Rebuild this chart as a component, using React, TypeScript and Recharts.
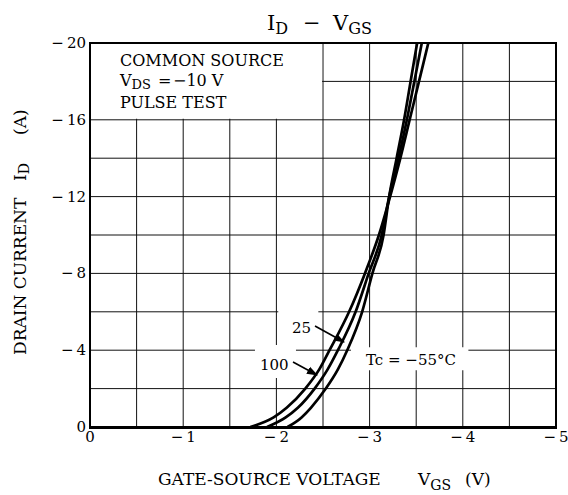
import React from 'react';
import { LineChart, Line, XAxis, YAxis, CartesianGrid, ReferenceArea } from 'recharts';

// Gate-source voltage (V) and drain current (A)
const xTicks = [0, -0.5, -1, -1.5, -2, -2.5, -3, -3.5, -4, -4.5, -5];
const yTicks = [0, -2, -4, -6, -8, -10, -12, -14, -16, -18, -20];
const xLabelTicks = [0, -1, -2, -3, -4, -5];
const yLabelTicks = [0, -4, -8, -12, -16, -20];

const idLevels = [0, -0.5, -1, -2, -3, -4, -6, -8, -10, -12, -14, -16, -18, -20];
const vgs100 = [-1.72, -1.97, -2.11, -2.31, -2.46, -2.57, -2.78, -2.95, -3.1, -3.22, -3.33, -3.43, -3.53, -3.63];
const vgs25 = [-1.9, -2.1, -2.23, -2.41, -2.55, -2.66, -2.85, -2.99, -3.13, -3.21, -3.31, -3.4, -3.48, -3.56];
const vgsM55 = [-2.12, -2.27, -2.37, -2.53, -2.66, -2.76, -2.92, -3.03, -3.15, -3.21, -3.29, -3.37, -3.44, -3.51];

const build = (vs: number[]) => vs.map((v, k) => ({ v, i: idLevels[k] }));
const data100 = build(vgs100);
const data25 = build(vgs25);
const dataM55 = build(vgsM55);

const FONT = 'DejaVu Serif';
const MINUS = '\u2212';
const fmt = (n: number) => (n === 0 ? '0' : `${MINUS}\u2009${Math.abs(n)}`);

const XTick = (props: any) => {
  const { x, payload } = props;
  if (!xLabelTicks.includes(payload.value)) return null;
  return (
    <text x={x} y={442} textAnchor="middle" fontFamily={FONT} fontSize={15} fill="#000">
      {fmt(payload.value)}
    </text>
  );
};

const YTick = (props: any) => {
  const { y, payload } = props;
  if (!yLabelTicks.includes(payload.value)) return null;
  return (
    <text x={86} y={y + 5} textAnchor="end" fontFamily={FONT} fontSize={15} fill="#000">
      {fmt(payload.value)}
    </text>
  );
};

export default function App() {
  return (
    <div style={{ position: 'absolute', left: 0, top: 0, width: 568, height: 495, background: '#fff' }}>
      <LineChart width={568} height={495} margin={{ top: 43, right: 12, bottom: 38, left: 20 }}>
        <CartesianGrid stroke="#111" strokeWidth={1} />
        <XAxis
          type="number"
          dataKey="v"
          domain={[-5, 0]}
          reversed
          ticks={xTicks}
          interval={0}
          tickLine={false}
          axisLine={false}
          tick={<XTick />}
          height={30}
          allowDataOverflow
        />
        <YAxis
          type="number"
          dataKey="i"
          domain={[-20, 0]}
          reversed
          ticks={yTicks}
          interval={0}
          tickLine={false}
          axisLine={false}
          tick={<YTick />}
          width={70}
          allowDataOverflow
        />
        <ReferenceArea x1={0} x2={-2.49} y1={-20} y2={-16.06} fill="#fff" fillOpacity={1} stroke="none" />
        <ReferenceArea x1={-2.02} x2={-2.45} y1={-4.27} y2={-6.05} fill="#fff" fillOpacity={1} stroke="none" />
        <ReferenceArea x1={-1.77} x2={-2.21} y1={-2.55} y2={-4.27} fill="#fff" fillOpacity={1} stroke="none" />
        <ReferenceArea x1={-2.8} x2={-4.06} y1={-2.95} y2={-4.15} fill="#fff" fillOpacity={1} stroke="none" />
        <Line data={data100} dataKey="i" type="monotone" stroke="#000" strokeWidth={2.7} dot={false} isAnimationActive={false} />
        <Line data={data25} dataKey="i" type="monotone" stroke="#000" strokeWidth={2.7} dot={false} isAnimationActive={false} />
        <Line data={dataM55} dataKey="i" type="monotone" stroke="#000" strokeWidth={2.7} dot={false} isAnimationActive={false} />
      </LineChart>
      <svg
        width={568}
        height={495}
        style={{ position: 'absolute', left: 0, top: 0, pointerEvents: 'none' }}
      >
        <defs>
          <marker id="arr" viewBox="0 0 10 10" refX="9" refY="5" markerWidth="7" markerHeight="7" orient="auto">
            <path d="M0,1.5 L10,5 L0,8.5 z" fill="#000" />
          </marker>
        </defs>
        <rect x={90} y={43} width={466} height={384} fill="none" stroke="#000" strokeWidth={2} />
        <line x1={89} y1={427.5} x2={557} y2={427.5} stroke="#000" strokeWidth={3} />
        {/* title */}
        <text y={30} fontFamily={FONT} fontSize={21} fill="#000">
          <tspan x={267}>I</tspan>
          <tspan fontSize={16} dy={4}>D</tspan>
          <tspan x={303} dy={-4}>{MINUS}</tspan>
          <tspan x={333}>V</tspan>
          <tspan fontSize={16} dy={4}>GS</tspan>
        </text>
        {/* conditions box */}
        <text x={120} y={66} fontFamily={FONT} fontSize={16} fill="#000">COMMON SOURCE</text>
        <text fontFamily={FONT} fontSize={16} fill="#000">
          <tspan x={120} y={86}>V</tspan>
          <tspan fontSize={13} dy={3}>DS</tspan>
          <tspan x={158} dy={-3}>=</tspan>
          <tspan x={173}>{`${MINUS}10 V`}</tspan>
        </text>
        <text x={120} y={108} fontFamily={FONT} fontSize={16} fill="#000">PULSE TEST</text>
        {/* curve labels */}
        <text x={292} y={333} fontFamily={FONT} fontSize={15} fill="#000">25</text>
        <text x={260} y={370} fontFamily={FONT} fontSize={15} fill="#000">100</text>
        <text x={366} y={365} fontFamily={FONT} fontSize={15} fill="#000">
          {`Tc = ${MINUS}55\u00B0C`}
        </text>
        <line x1={315} y1={326} x2={344} y2={342} stroke="#000" strokeWidth={1.6} markerEnd="url(#arr)" />
        <line x1={293} y1={362} x2={317} y2={375} stroke="#000" strokeWidth={1.6} markerEnd="url(#arr)" />
        {/* y-axis label */}
        <text transform="rotate(-90)" fontFamily={FONT} fontSize={17} fill="#000">
          <tspan x={-355} y={26}>DRAIN CURRENT</tspan>
          <tspan x={-181} y={26}>I</tspan>
          <tspan fontSize={14} dy={3}>D</tspan>
          <tspan x={-135} y={26}>(A)</tspan>
        </text>
        {/* x-axis label */}
        <text fontFamily={FONT} fontSize={17} fill="#000">
          <tspan x={158} y={485}>GATE-SOURCE VOLTAGE</tspan>
          <tspan x={418} y={485}>V</tspan>
          <tspan fontSize={14} dy={5}>GS</tspan>
          <tspan x={465} y={485}>(V)</tspan>
        </text>
      </svg>
    </div>
  );
}
